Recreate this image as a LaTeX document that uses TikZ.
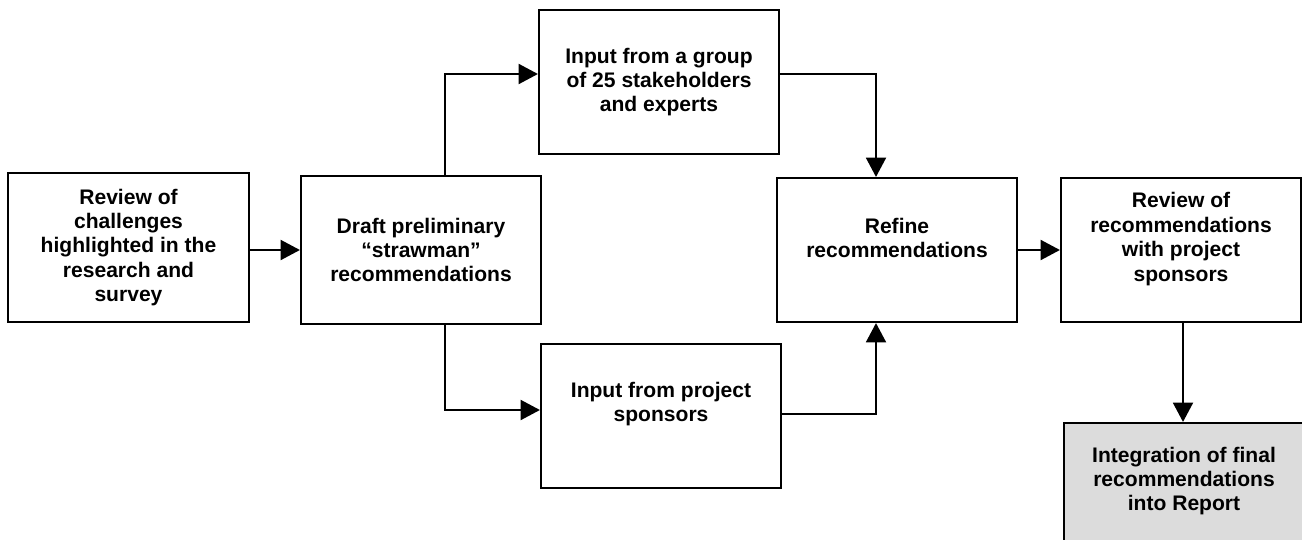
\documentclass[tikz,border=0pt]{standalone}
\usepackage{fontspec}
\setmainfont{Liberation Sans}
\usetikzlibrary{calc,arrows.meta}
\begin{document}
\begin{tikzpicture}[x=0.75pt,y=-0.75pt,
  box/.style={draw=black,line width=1.6pt,rectangle,minimum width=180pt,minimum height=108pt,inner sep=0pt,fill=white},
  txt/.style={align=center,font=\fontsize{15.8pt}{18.3pt}\selectfont\bfseries,inner sep=0pt},
  arr/.style={line width=1.5pt,-{Triangle[length=14.5pt,width=15pt]}},
  con/.style={line width=1.5pt}]
\useasboundingbox (0,0) rectangle (1302,539);
\clip (0,0) rectangle (1302,539);
\definecolor{lgray}{RGB}{220,220,220}
% boxes
\node[box,minimum width=180.75pt,minimum height=111.75pt] (b1) at (128.5,247.5) {};
\node[box,minimum height=111pt] (b2) at (421,250) {};
\node[box] (b3) at (659,82) {};
\node[box] (b4) at (661,416) {};
\node[box] (b5) at (897,250) {};
\node[box] (b6) at (1181,250) {};
\node[box,fill=lgray] (b7) at (1184,495) {};
% texts
\node[txt] (t1) at (b1.center) {Review of\\challenges\\highlighted in the\\research and\\survey};
\node[txt] (t2) at (b2.center) {Draft preliminary\\“strawman”\\recommendations};
\node[txt] (t3) at (b3.center) {Input from a group\\of 25 stakeholders\\and experts};
\node[txt] (t4) at ($(b4.center)+(0,-12)$) {Input from project\\sponsors};
\node[txt] (t5) at ($(b5.center)+(0,-12)$) {Refine\\recommendations};
\node[txt] (t6) at ($(b6.center)+(0,-11)$) {Review of\\recommendations\\with project\\sponsors};
\node[txt] (t7) at ($(b7.center)+(0,-14)$) {Integration of final\\recommendations\\into Report};
% connector anchors
\coordinate (c6) at ($(b6.south)+(2,0)$);
% connectors
\draw[arr] (b1.east |- b2.west) -- (b2.west);
\draw[arr] ($(b2.north)+(24,0)$) |- ($(b3.west)+(0,-8)$);
\draw[arr] ($(b2.south)+(24,0)$) |- ($(b4.west)+(0,-6)$);
\draw[arr] ($(b3.east)+(0,-8)$) -| ($(b5.north)+(-21,0)$);
\draw[arr] ($(b4.east)+(0,-2)$) -| ($(b5.south)+(-21,0)$);
\draw[arr] (b5.east) -- (b6.west);
\draw[arr] (c6) -- (c6 |- b7.north);
\end{tikzpicture}
\end{document}
